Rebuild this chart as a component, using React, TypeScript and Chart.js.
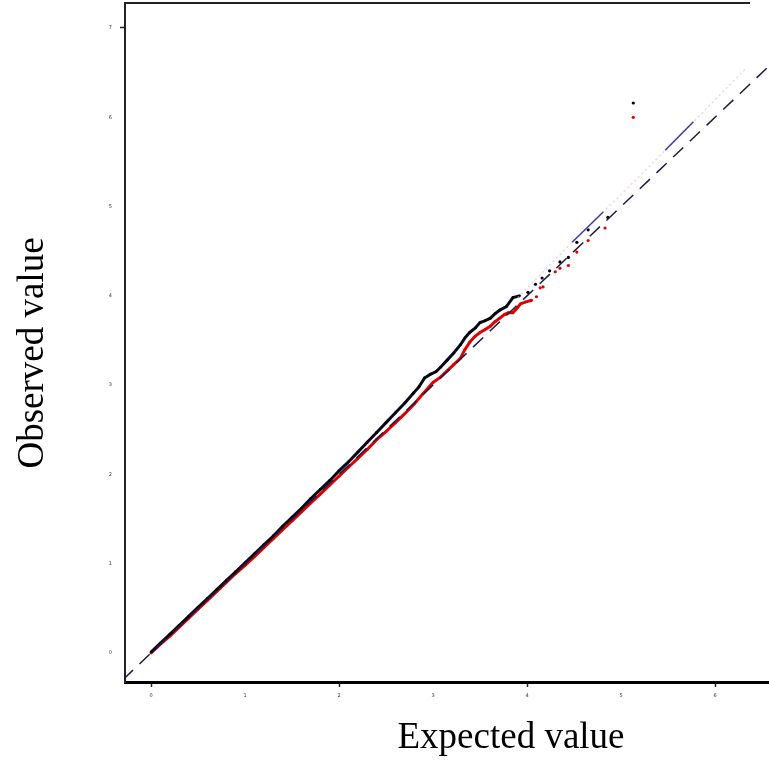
import React, { useEffect, useRef } from "react";
import { Chart, registerables } from "chart.js";

Chart.register(...registerables);

// Tick values
const xTickValues = [0, 1, 2, 3, 4, 5, 6];
const yTickValues = [0, 1, 2, 3, 4, 5, 6, 7];

// Observed (black) series – dense part drawn as a thick trace
const blackLineX = [0.0, 0.1, 0.2, 0.3, 0.4, 0.5, 0.6, 0.7, 0.8, 0.9, 1.0, 1.1, 1.2, 1.3, 1.4, 1.5, 1.6, 1.7, 1.8, 1.9, 2.0, 2.1, 2.2, 2.3, 2.4, 2.5, 2.6, 2.7, 2.79, 2.85, 2.91, 2.97, 3.03, 3.08, 3.15, 3.22, 3.29, 3.34, 3.39, 3.45, 3.5, 3.55, 3.61, 3.66, 3.71, 3.78, 3.85, 3.92];
const blackLineY = [0.01, 0.11, 0.21, 0.31, 0.41, 0.51, 0.61, 0.71, 0.81, 0.91, 1.01, 1.11, 1.21, 1.31, 1.42, 1.52, 1.62, 1.73, 1.83, 1.93, 2.04, 2.14, 2.25, 2.36, 2.47, 2.58, 2.69, 2.8, 2.91, 2.98, 3.08, 3.12, 3.15, 3.2, 3.28, 3.36, 3.45, 3.53, 3.59, 3.64, 3.7, 3.72, 3.75, 3.8, 3.84, 3.88, 3.98, 4.0];
const blackDotsX = [4.01, 4.09, 4.16, 4.24, 4.35, 4.44, 4.53, 4.65, 4.86, 5.13];
const blackDotsY = [4.04, 4.13, 4.2, 4.28, 4.38, 4.43, 4.6, 4.74, 4.88, 6.16];

// Second (red) series
const redLineX = [0.0, 0.1, 0.2, 0.3, 0.4, 0.5, 0.6, 0.7, 0.8, 0.9, 1.0, 1.1, 1.2, 1.3, 1.4, 1.5, 1.6, 1.7, 1.8, 1.9, 2.0, 2.1, 2.2, 2.3, 2.4, 2.5, 2.6, 2.7, 2.8, 2.89, 2.95, 3.0, 3.08, 3.15, 3.22, 3.29, 3.34, 3.39, 3.45, 3.5, 3.55, 3.61, 3.66, 3.71, 3.76, 3.8, 3.85, 3.9, 3.93, 3.98, 4.05];
const redLineY = [0.0, 0.1, 0.19, 0.29, 0.39, 0.49, 0.59, 0.69, 0.79, 0.89, 0.98, 1.08, 1.18, 1.28, 1.38, 1.48, 1.58, 1.68, 1.78, 1.88, 1.98, 2.08, 2.18, 2.28, 2.39, 2.48, 2.58, 2.68, 2.79, 2.9, 2.97, 3.03, 3.09, 3.16, 3.23, 3.3, 3.4, 3.48, 3.55, 3.59, 3.62, 3.66, 3.71, 3.75, 3.79, 3.81, 3.81, 3.87, 3.91, 3.93, 3.95];
const redDotsX = [4.1, 4.14, 4.17, 4.3, 4.35, 4.44, 4.53, 4.65, 4.83, 5.13];
const redDotsY = [3.99, 4.09, 4.1, 4.27, 4.31, 4.34, 4.49, 4.62, 4.76, 6.0];

// Reference line y = x
const refX = [-0.3, 6.7];
const refY = [-0.3, 6.7];

// Upper band (faint) and its visible blue parts
const bandX = [3.9, 4.48, 4.81, 5.1, 5.47, 5.77, 6.34];
const bandY = [3.98, 4.6, 4.94, 5.24, 5.63, 5.95, 6.56];
const blueSeg1X = [4.48, 4.81];
const blueSeg1Y = [4.6, 4.94];
const blueSeg2X = [5.47, 5.77];
const blueSeg2Y = [5.63, 5.95];

const zip = (xs: number[], ys: number[]) =>
  xs.slice(0, Math.min(xs.length, ys.length)).map((x, i) => ({ x, y: ys[i] }));

const titlesPlugin = {
  id: "titlesPlugin",
  afterDraw(chart: any) {
    const ctx = chart.ctx;
    const { left, top } = chart.chartArea;
    ctx.save();
    // top frame line
    ctx.strokeStyle = "#222";
    ctx.lineWidth = 2;
    ctx.beginPath();
    ctx.moveTo(left - 1, top);
    ctx.lineTo(750, top);
    ctx.stroke();
    ctx.fillStyle = "#000";
    ctx.font = '37px "Liberation Serif", "Times New Roman", serif';
    ctx.textAlign = "center";
    ctx.textBaseline = "alphabetic";
    ctx.fillText("Expected value", 511, 748);
    ctx.translate(43, 353);
    ctx.rotate(-Math.PI / 2);
    ctx.fillText("Observed value", 0, 0);
    ctx.restore();
  },
};

export default function App() {
  const ref = useRef<HTMLCanvasElement>(null);
  useEffect(() => {
    if (!ref.current) return;
    const chart = new Chart(ref.current, {
      type: "scatter",
      data: {
        datasets: [
          {
            label: "ref",
            data: zip(refX, refY),
            showLine: true,
            borderColor: "#1c1c4a",
            borderWidth: 1.5,
            borderDash: [14, 9],
            pointRadius: 0,
            order: 0,
          },
          {
            label: "blue1",
            data: zip(blueSeg1X, blueSeg1Y),
            showLine: true,
            borderColor: "#3b3ba8",
            borderWidth: 1.5,
            pointRadius: 0,
            order: 1,
          },
          {
            label: "blue2",
            data: zip(blueSeg2X, blueSeg2Y),
            showLine: true,
            borderColor: "#3b3ba8",
            borderWidth: 1.5,
            pointRadius: 0,
            order: 1,
          },
          {
            label: "band",
            data: zip(bandX, bandY),
            showLine: true,
            borderColor: "rgba(215,185,210,0.6)",
            borderWidth: 1.5,
            borderDash: [2, 3],
            pointRadius: 0,
            order: 2,
          },
          {
            label: "black line",
            data: zip(blackLineX, blackLineY),
            showLine: true,
            borderColor: "#0a0a1a",
            borderWidth: 3,
            pointRadius: 1.4,
            pointBackgroundColor: "#000",
            pointBorderWidth: 0,
            order: 3,
          },
          {
            label: "black dots",
            data: zip(blackDotsX, blackDotsY),
            showLine: false,
            pointRadius: 1.6,
            pointBackgroundColor: "#000",
            pointBorderWidth: 0,
            order: 3,
          },
          {
            label: "red line",
            data: zip(redLineX, redLineY),
            showLine: true,
            borderColor: "#e00000",
            borderWidth: 3,
            pointRadius: 1.4,
            pointBackgroundColor: "#e00000",
            pointBorderWidth: 0,
            order: 4,
          },
          {
            label: "red dots",
            data: zip(redDotsX, redDotsY),
            showLine: false,
            pointRadius: 1.6,
            pointBackgroundColor: "#e00000",
            pointBorderWidth: 0,
            order: 4,
          },
        ],
      },
      options: {
        animation: false,
        responsive: false,
        devicePixelRatio: 1,
        layout: { autoPadding: false, padding: { top: 3, right: 0, left: 0, bottom: 0 } },
        plugins: { legend: { display: false }, tooltip: { enabled: false } },
        scales: {
          x: {
            type: "linear",
            min: -0.277,
            max: 6.574,
            afterBuildTicks: (s: any) => {
              s.ticks = xTickValues.map((v) => ({ value: v }));
            },
            afterFit: (s: any) => {
              s.height = 82;
              s.paddingLeft = 0;
              s.paddingRight = 0;
            },
            border: { display: true, color: "#000", width: 3 },
            grid: {
              display: true,
              drawOnChartArea: false,
              drawTicks: true,
              tickLength: 5,
              tickWidth: 1.5,
              tickColor: (c: any) => (c.tick && c.tick.value % 2 === 0 ? "#222" : "rgba(0,0,0,0)"),
            },
            ticks: {
              autoSkip: false,
              maxRotation: 0,
              padding: 6,
              color: "#333",
              font: { size: 5, family: "DejaVu Sans" },
            },
          },
          y: {
            type: "linear",
            min: -0.325,
            max: 7.28,
            afterBuildTicks: (s: any) => {
              s.ticks = yTickValues.map((v) => ({ value: v }));
            },
            afterFit: (s: any) => {
              s.width = 125;
              s.paddingTop = 0;
              s.paddingBottom = 0;
            },
            border: { display: true, color: "#222", width: 2 },
            grid: {
              display: true,
              drawOnChartArea: false,
              drawTicks: true,
              tickLength: 5,
              tickWidth: 1.5,
              tickColor: (c: any) => (c.tick && c.tick.value === 7 ? "#222" : "rgba(0,0,0,0)"),
            },
            ticks: {
              autoSkip: false,
              padding: 8,
              color: "#333",
              font: { size: 5, family: "DejaVu Sans" },
            },
          },
        },
      },
      plugins: [titlesPlugin],
    });
    return () => chart.destroy();
  }, []);
  return (
    <div style={{ position: "fixed", left: 0, top: 0, width: 769, height: 764, background: "#fff" }}>
      <canvas ref={ref} width={769} height={764} style={{ display: "block" }} />
    </div>
  );
}
